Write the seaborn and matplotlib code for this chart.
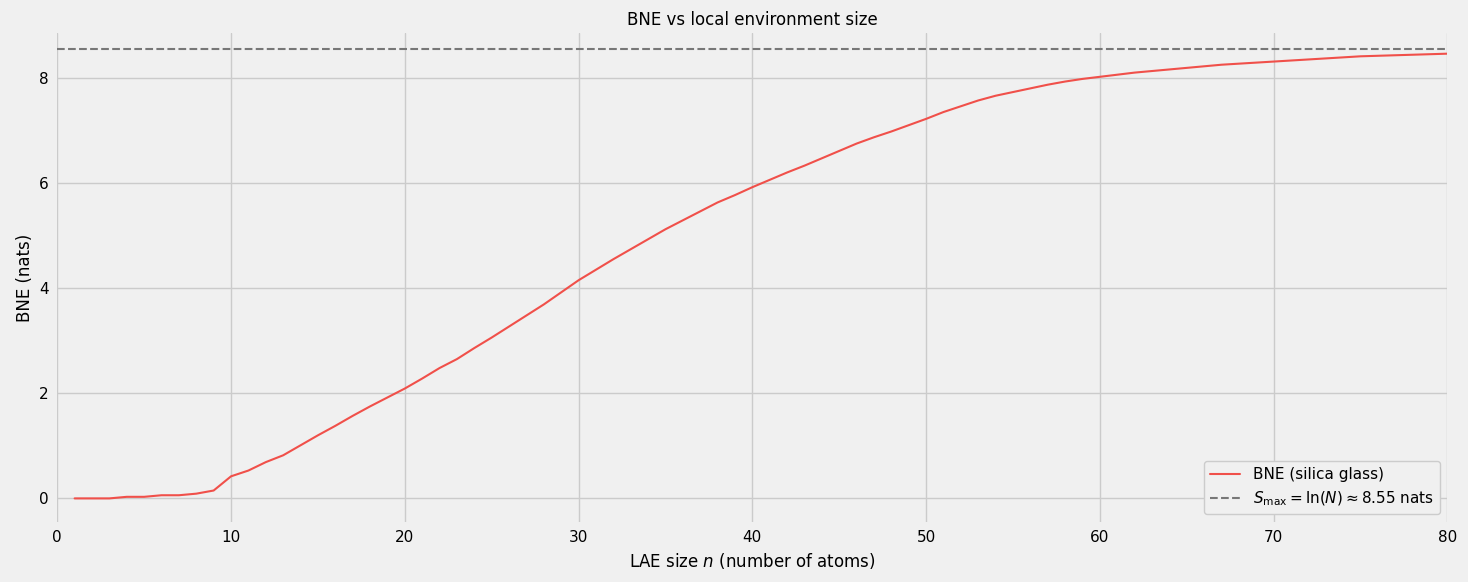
import matplotlib
matplotlib.use("Agg")
import matplotlib.pyplot as plt
import numpy as np
import pandas as pd
import seaborn as sns

n_atoms = list(range(1, 81))
bne = [0.0, 0.0, 0.0, 0.03, 0.03, 0.06, 0.06, 0.09, 0.15, 0.42,
       0.53, 0.69, 0.82, 1.01, 1.20, 1.38, 1.57, 1.75, 1.92, 2.09,
       2.28, 2.48, 2.65, 2.86, 3.06, 3.27, 3.48, 3.69, 3.92, 4.15,
       4.35, 4.55, 4.74, 4.93, 5.12, 5.29, 5.46, 5.63, 5.77, 5.92,
       6.06, 6.20, 6.33, 6.47, 6.61, 6.75, 6.87, 6.98, 7.10, 7.22,
       7.35, 7.46, 7.57, 7.66, 7.73, 7.80, 7.87, 7.93, 7.98, 8.02,
       8.06, 8.10, 8.13, 8.16, 8.19, 8.22, 8.25, 8.27, 8.29, 8.31,
       8.33, 8.35, 8.37, 8.39, 8.41, 8.42, 8.43, 8.44, 8.45, 8.46]
s_max = 8.55

df = pd.DataFrame({"n": n_atoms, "bne": bne})

sns.set_theme(style="whitegrid")
plt.rcParams.update({
    "figure.facecolor": "#f0f0f0",
    "axes.facecolor": "#f0f0f0",
    "grid.color": "#cbcbcb",
    "grid.linewidth": 1.0,
    "text.color": "black",
    "axes.labelcolor": "black",
    "xtick.color": "black",
    "ytick.color": "black",
    "font.family": ["DejaVu Sans"],
})

fig, ax = plt.subplots(figsize=(14.68, 5.82), dpi=100)
sns.lineplot(data=df, x="n", y="bne", ax=ax, color="#f0504a", linewidth=1.5,
             label="BNE (silica glass)")
ax.axhline(s_max, color="#777777", linestyle="--", linewidth=1.5,
           label=r"$S_{\max} = \ln(N) \approx 8.55$ nats")
for s in ax.spines.values():
    s.set_visible(False)
ax.set_xlim(0, 80)
ax.set_ylim(-0.45, 8.85)
ax.set_xticks(range(0, 81, 10))
ax.set_yticks(range(0, 9, 2))
ax.tick_params(labelsize=11, length=0, pad=6)
ax.set_xlabel("LAE size $n$ (number of atoms)", fontsize=12)
ax.set_ylabel("BNE (nats)", fontsize=12)
ax.set_title("BNE vs local environment size", fontsize=12)
ax.legend(loc="lower right", fontsize=11, facecolor="#f0f0f0", framealpha=1)
fig.subplots_adjust(left=0.039, right=0.986, top=0.943, bottom=0.103)
fig.savefig("out.png", dpi=100)
